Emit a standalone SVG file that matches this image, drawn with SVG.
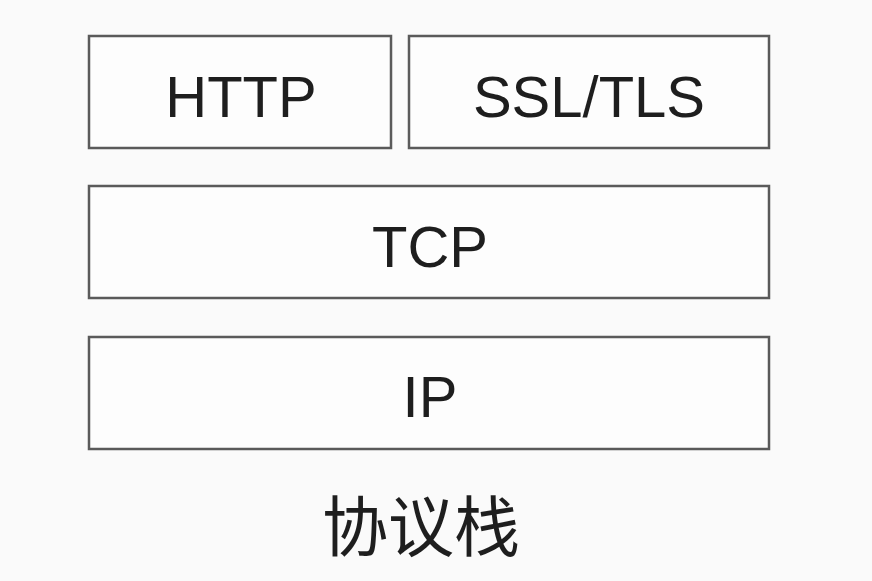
<svg xmlns="http://www.w3.org/2000/svg" width="872" height="581" viewBox="0 0 872 581">
<style>
.box{fill:#fdfdfd;stroke:#5a5a5a;stroke-width:2.5}
.lbl{font-family:"Liberation Sans",Arial,sans-serif;font-size:58px;fill:#1e1e1e;text-anchor:middle}
.cap{font-family:"Liberation Sans","Noto Sans CJK SC",sans-serif;font-size:66px;fill:#1e1e1e;text-anchor:middle}
</style>
<rect width="872" height="581" fill="#fafafa"/>
<g id="http"><rect class="box" x="89" y="36" width="302" height="112"/><text class="lbl" x="241" y="117">HTTP</text></g>
<g id="ssl"><rect class="box" x="409" y="36" width="360" height="112"/><text class="lbl" x="589" y="117">SSL/TLS</text></g>
<g id="tcp"><rect class="box" x="89" y="186" width="680" height="112"/><text class="lbl" x="430" y="267">TCP</text></g>
<g id="ip"><rect class="box" x="89" y="337" width="680" height="112"/><text class="lbl" x="430" y="417">IP</text></g>
<g id="connectors"></g>
<g id="caption"><text class="cap" x="421" y="551">协议栈</text></g>
</svg>
